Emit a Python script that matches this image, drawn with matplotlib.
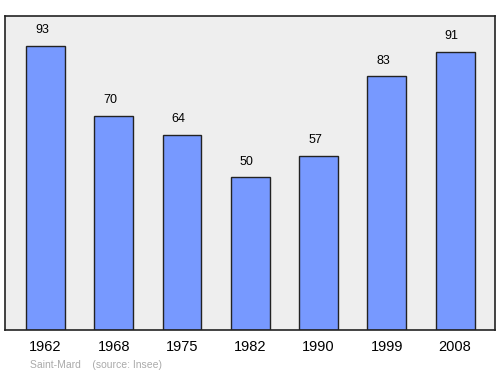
import matplotlib
matplotlib.use('Agg')
import matplotlib.pyplot as plt

years = ['1962', '1968', '1975', '1982', '1990', '1999', '2008']
population = [93, 70, 64, 50, 57, 83, 91]

plt.rcParams['font.family'] = ['Liberation Sans', 'DejaVu Sans']

fig = plt.figure(figsize=(5, 3.74), dpi=100)
ax = fig.add_axes([5 / 500, 1 - 330 / 374, 490 / 500, 314 / 374])
ax.set_facecolor('#eeeeee')

x = range(len(years))
ax.bar(x, population, width=0.57, color='#7799ff', edgecolor='#222222', linewidth=1)
for i, v in zip(x, population):
    ax.annotate(str(v), (i, v), xytext=(-2.5, 7), textcoords='offset points',
                ha='center', va='bottom', fontsize=9)

ax.set_xlim(-0.593, 6.585)
ax.set_ylim(0, 102.8)
ax.set_yticks([])
ax.set_xticks([])
for s in ax.spines.values():
    s.set_linewidth(1.2)
    s.set_color('#222222')

for i, y in zip(x, years):
    ax.annotate(y, (i, 0), xytext=(0, -12.5), textcoords='offset points',
                ha='center', va='center', fontsize=10.5)

fig.text(30 / 500, 1 - 365.5 / 374, 'Saint-Mard    (source: Insee)', fontsize=7.5,
         color='#aaaaaa', va='center', ha='left')

fig.savefig('out.png', dpi=100)
